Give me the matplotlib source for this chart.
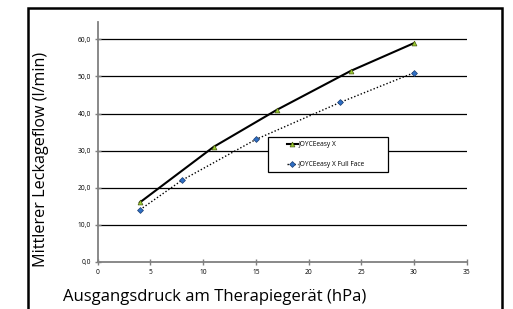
import matplotlib
matplotlib.use("Agg")
import matplotlib.pyplot as plt
from matplotlib.patches import Rectangle

plt.rcParams['font.family'] = ['Open Sans', 'DejaVu Sans']

# data
druck_x = [4, 11, 17, 24, 30]
flow_x = [16.0, 31.0, 41.0, 51.5, 59.0]
druck_ff = [4, 8, 15, 23, 30]
flow_ff = [14.0, 22.0, 33.0, 43.0, 51.0]
x_ticks = [0, 5, 10, 15, 20, 25, 30, 35]
y_ticks = [0, 10, 20, 30, 40, 50, 60]
y_labels = ["0,0", "10,0", "20,0", "30,0", "40,0", "50,0", "60,0"]

W, H = 513, 309
fig = plt.figure(figsize=(W / 100, H / 100), dpi=100)


def px(x, y):
    # pixel position (from top left) -> figure fraction
    return x / W, 1 - y / H


# outer frame (bottom edge runs off the picture)
fig.patches.append(Rectangle((28 / W, -0.05), (502 - 28) / W, 1.05 - 8 / H,
                             transform=fig.transFigure, fill=False,
                             edgecolor="black", linewidth=1.8))

ax = fig.add_axes([97.7 / W, 1 - 261.7 / H, (466.7 - 97.7) / W, (261.7 - 22) / H])
ax.set_xlim(0, 35)
ax.set_ylim(0, 64.7)

for y in y_ticks[1:]:
    ax.axhline(y, color="black", linewidth=0.9, zorder=1)

ax.plot(druck_x, flow_x, color="black", linewidth=1.5, marker="^",
        markersize=3.5, markerfacecolor="#9ACD32", markeredgecolor="#4a5a10",
        markeredgewidth=0.5, label="JOYCEeasy X", zorder=3)
ax.plot(druck_ff, flow_ff, color="black", linewidth=1.0, linestyle=(0, (1, 1.5)),
        marker="D", markersize=3.0, markerfacecolor="#2f6fc4",
        markeredgecolor="#1a3c70", markeredgewidth=0.5,
        label="JOYCEeasy X Full Face", zorder=3)

for side in ["top", "right"]:
    ax.spines[side].set_visible(False)
for side in ["left", "bottom"]:
    ax.spines[side].set_color("#808080")
    ax.spines[side].set_linewidth(1.3)

ax.set_xticks(x_ticks)
ax.set_yticks(y_ticks)
ax.set_yticklabels(y_labels)
ax.tick_params(direction="inout", length=4, width=1, color="#808080",
               labelsize=4.8, pad=3)

fig.text(*px(63, 301), "Ausgangsdruck am Therapiegerät (hPa)", fontsize=12,
         ha="left", va="baseline")
fig.text(*px(41, 159.5), "Mittlerer Leckageflow (l/min)", fontsize=11.6,
         rotation=90, ha="center", va="center")

# legend box with white fill, legend entries drawn on top without frame
x0, y0 = px(268, 172)
fig.patches.append(Rectangle((x0, y0), (388 - 268) / W, (172 - 137) / H,
                             transform=fig.transFigure, facecolor="white",
                             edgecolor="black", linewidth=0.9, zorder=5))
leg = fig.legend(*ax.get_legend_handles_labels(), loc="upper left",
                 bbox_to_anchor=px(287, 141.5), fontsize=4.8, frameon=False,
                 borderpad=0, labelspacing=1.9, handlelength=1.6,
                 handletextpad=0.2, borderaxespad=0)
leg.set_zorder(6)

fig.savefig("out.png", dpi=100)
